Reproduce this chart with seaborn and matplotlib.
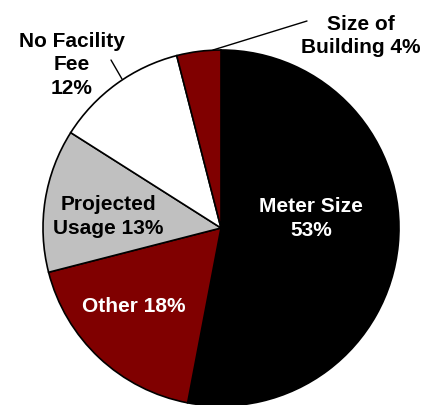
import matplotlib
matplotlib.use("Agg")
import matplotlib.pyplot as plt
import seaborn as sns

categories = ["Meter Size", "Other", "Projected Usage", "No Facility Fee", "Size of Building"]
values = [53, 18, 13, 12, 4]
colors = ["#000000", "#800000", "#c0c0c0", "#ffffff", "#800000"]
label_texts = ["Meter Size\n53%", "Other 18%", "Projected\nUsage 13%", "No Facility\nFee\n12%", "Size of\nBuilding 4%"]
label_colors = ["white", "white", "black", "black", "black"]

sns.set_theme(style="white")
plt.rcParams['font.family'] = ['Liberation Sans', 'DejaVu Sans']

W, H = 423, 406
fig = plt.figure(figsize=(W / 100, H / 100), dpi=100)
ax = fig.add_axes([0, 0, 1, 1])

cx, cy, R = 221, 229, 178

def px(x, y):
    return (x - cx) / R, (cy - y) / R

ax.pie(values, colors=colors, startangle=90, counterclock=False, radius=1,
       wedgeprops=dict(edgecolor="black", linewidth=1.2))
ax.set_aspect('auto')
ax.set_xlim(-cx / R, (W - cx) / R)
ax.set_ylim(-(H - cy) / R, cy / R)
ax.axis('off')

label_px = [(311, 218.5), (134, 307), (108, 216.5), (72, 65), (361, 36)]
for txt, (x, y), c in zip(label_texts, label_px, label_colors):
    dx, dy = px(x, y)
    ax.text(dx, dy, txt, ha='center', va='center', color=c, fontsize=15,
            fontweight='bold', linespacing=1.3)

# leader lines
for (x0, y0), (x1, y1) in [((213, 51), (307, 22)), ((122, 80), (111, 61))]:
    a = px(x0, y0); b = px(x1, y1)
    ax.plot([a[0], b[0]], [a[1], b[1]], color='black', linewidth=1)

fig.savefig("out.png", dpi=100)
